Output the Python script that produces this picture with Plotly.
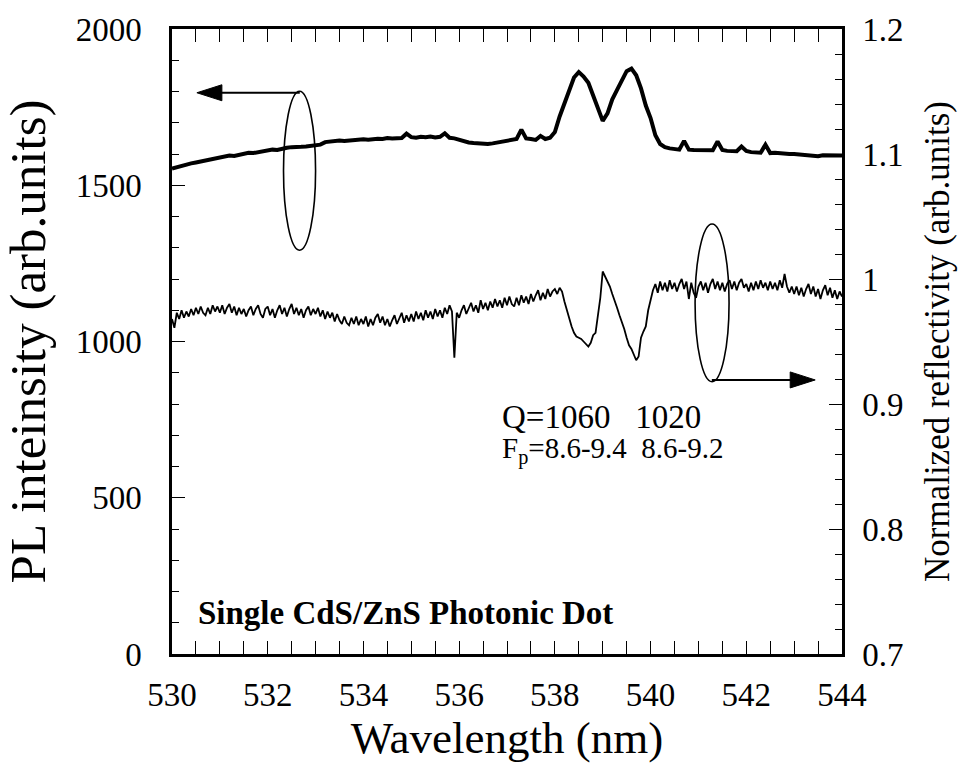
import numpy as np
import plotly.graph_objects as go

# ---------------- data ----------------
# PL intensity (left axis), 530.0 .. 544.0 nm step 0.1
pl_start, pl_step = 530.0, 0.1
pl_values = [
    1553, 1558, 1562, 1565, 1570, 1573, 1576, 1580, 1582, 1586,
    1590, 1592, 1595, 1594, 1598, 1600, 1604, 1603, 1606, 1608,
    1612, 1614, 1613, 1618, 1620, 1622, 1621, 1623, 1624, 1626,
    1627, 1630, 1638, 1640, 1641, 1643, 1642, 1644, 1645, 1646,
    1647, 1646, 1648, 1649, 1648, 1651, 1650, 1652, 1651, 1665,
    1654, 1652, 1655, 1654, 1656, 1653, 1655, 1666, 1652, 1650,
    1645, 1640, 1637, 1635, 1634, 1632, 1632, 1634, 1637, 1640,
    1644, 1647, 1648, 1678, 1650, 1648, 1645, 1658, 1648, 1652,
    1670, 1720, 1760, 1805, 1845, 1862, 1848, 1828, 1785, 1740,
    1706, 1730, 1775, 1805, 1835, 1865, 1873, 1852, 1810, 1755,
    1715, 1660, 1632, 1622, 1618, 1616, 1614, 1642, 1614, 1613,
    1612, 1611, 1610, 1612, 1640, 1613, 1610, 1611, 1609, 1624,
    1610, 1606, 1605, 1604, 1630, 1603, 1604, 1602, 1603, 1600,
    1600, 1598, 1598, 1595, 1594, 1593, 1596, 1595, 1594, 1596,
    1595,
]

# Normalized reflectivity (right axis), 530.00 .. 544.00 nm step 0.05
rf_start, rf_step = 530.0, 0.05
rf_values = [
    0.968, 0.961, 0.973, 0.968, 0.975, 0.969, 0.974, 0.970, 0.976, 0.971, 0.977, 0.972, 0.978, 0.973, 0.971, 0.977, 0.972, 0.979, 0.974, 0.978,
    0.973, 0.979, 0.972, 0.977, 0.980, 0.973, 0.978, 0.971, 0.977, 0.972, 0.976, 0.970, 0.975, 0.978, 0.971, 0.976, 0.979, 0.972, 0.969, 0.976,
    0.978, 0.971, 0.976, 0.969, 0.975, 0.979, 0.972, 0.977, 0.970, 0.976, 0.980, 0.972, 0.977, 0.971, 0.976, 0.969, 0.975, 0.978, 0.971, 0.976,
    0.972, 0.977, 0.970, 0.975, 0.968, 0.974, 0.969, 0.973, 0.966, 0.972, 0.967, 0.964, 0.970, 0.965, 0.963, 0.969, 0.964, 0.970, 0.963, 0.968,
    0.964, 0.970, 0.962, 0.968, 0.963, 0.969, 0.972, 0.965, 0.970, 0.963, 0.968, 0.962, 0.967, 0.971, 0.964, 0.969, 0.973, 0.965, 0.971, 0.966,
    0.972, 0.966, 0.974, 0.968, 0.973, 0.967, 0.975, 0.969, 0.974, 0.968, 0.976, 0.970, 0.975, 0.969, 0.977, 0.972, 0.979, 0.974, 0.937, 0.973,
    0.969, 0.975, 0.979, 0.972, 0.977, 0.981, 0.974, 0.979, 0.973, 0.983, 0.976, 0.981, 0.975, 0.982, 0.977, 0.984, 0.978, 0.983, 0.977, 0.985,
    0.979, 0.986, 0.980, 0.978, 0.985, 0.979, 0.987, 0.981, 0.986, 0.980, 0.988, 0.982, 0.987, 0.991, 0.983, 0.989, 0.984, 0.992, 0.986, 0.990,
    0.992, 0.988, 0.993, 0.990, 0.982, 0.975, 0.968, 0.962, 0.957, 0.954, 0.953, 0.952, 0.950, 0.948, 0.946, 0.949, 0.955, 0.957, 0.972, 0.985,
    1.006, 1.002, 0.999, 0.994, 0.988, 0.983, 0.977, 0.971, 0.966, 0.960, 0.953, 0.947, 0.944, 0.940, 0.935, 0.938, 0.953, 0.958, 0.962, 0.975,
    0.984, 0.991, 0.996, 0.989, 0.998, 0.991, 0.997, 0.990, 0.999, 0.992, 0.997, 0.990, 0.996, 1.000, 0.992, 0.998, 0.984, 0.997, 0.989, 0.985,
    0.994, 0.998, 0.991, 0.997, 0.989, 0.996, 1.000, 0.992, 0.998, 0.991, 0.997, 0.990, 0.996, 0.999, 0.992, 0.998, 0.991, 0.997, 1.000, 0.993,
    0.996, 0.990, 0.997, 0.991, 0.998, 0.992, 0.999, 0.993, 0.997, 0.991, 0.998, 0.992, 0.997, 0.991, 0.999, 0.993, 1.004, 0.994, 0.989, 0.994,
    0.988, 0.994, 0.987, 0.993, 0.986, 0.992, 0.996, 0.988, 0.994, 0.986, 0.992, 0.984, 0.991, 0.995, 0.987, 0.993, 0.985, 0.991, 0.984, 0.990,
    0.986,
]

x_ticks = [530, 532, 534, 536, 538, 540, 542, 544]
y_left_ticks = [0, 500, 1000, 1500, 2000]
y_right_ticks = [0.7, 0.8, 0.9, 1.0, 1.1, 1.2]
y_right_labels = ["0.7", "0.8", "0.9", "1", "1.1", "1.2"]

pl_x = pl_start + pl_step * np.arange(len(pl_values))
rf_x = rf_start + rf_step * np.arange(len(rf_values))

FONT = "Liberation Serif"

fig = go.Figure()
fig.add_trace(go.Scatter(x=pl_x, y=pl_values, mode="lines",
                         line=dict(color="black", width=4), yaxis="y",
                         showlegend=False))
fig.add_trace(go.Scatter(x=rf_x, y=rf_values, mode="lines",
                         line=dict(color="black", width=1.8), yaxis="y2",
                         showlegend=False))

# ellipses
fig.add_shape(type="circle", xref="x", yref="y", x0=532.33, x1=533.0,
              y0=1292, y1=1801, line=dict(color="black", width=1.6))
fig.add_shape(type="circle", xref="x", yref="y", x0=540.93, x1=541.64,
              y0=871, y1=1376, line=dict(color="black", width=1.6))

# arrows: shaft + filled head
def arrow(x_from, x_tip, y, direction):
    fig.add_shape(type="line", xref="x", yref="y", x0=x_from, x1=x_tip - direction * 0.3,
                  y0=y, y1=y, line=dict(color="black", width=2))
    d = direction
    fig.add_shape(type="path", xref="x", yref="y", xsizemode="pixel", ysizemode="pixel",
                  xanchor=x_tip, yanchor=y,
                  path=f"M0,0 L{-d*25},8 L{-d*25},-8 Z",
                  fillcolor="black", line=dict(color="black", width=1))

arrow(532.67, 530.52, 1796, -1)
arrow(541.28, 543.44, 877, 1)

# text
fig.add_annotation(x=536.85, y=760, xref="x", yref="y", text="Q=1060   1020",
                   showarrow=False, xanchor="left", yanchor="middle",
                   font=dict(family=FONT, size=33, color="black"))
fig.add_annotation(x=536.85, y=652, xref="x", yref="y",
                   text="F<sub>p</sub>=8.6-9.4  8.6-9.2",
                   showarrow=False, xanchor="left", yanchor="middle",
                   font=dict(family=FONT, size=29, color="black"))
fig.add_annotation(x=530.5, y=131, xref="x", yref="y",
                   text="<b>Single CdS/ZnS Photonic Dot</b>",
                   showarrow=False, xanchor="left", yanchor="middle",
                   font=dict(family=FONT, size=33, color="black"))

axis_common = dict(showgrid=False, zeroline=False, ticks="inside",
                   tickcolor="black", tickwidth=1.2, ticklen=13,
                   linecolor="black", linewidth=2.5, showline=True,
                   tickfont=dict(family=FONT, size=33, color="black"))

fig.update_layout(
    width=964, height=771,
    margin=dict(l=172, r=122, t=27, b=117),
    paper_bgcolor="white", plot_bgcolor="white",
    xaxis=dict(range=[530, 544], tickvals=x_ticks, mirror="allticks",
               minor=dict(dtick=0.5, ticks="inside", ticklen=7, tickcolor="black", tickwidth=1),
               ticklabelstandoff=10,
               title=dict(text="Wavelength (nm)", font=dict(family=FONT, size=45, color="black"),
                          standoff=7),
               **axis_common),
    yaxis=dict(range=[0, 2000], tickvals=y_left_ticks,
               minor=dict(dtick=100, ticks="inside", ticklen=7, tickcolor="black", tickwidth=1),
               ticklabelstandoff=21,
               title=dict(text="PL inteinsity (arb.units)", font=dict(family=FONT, size=51, color="black"),
                          standoff=22),
               **axis_common),
    yaxis2=dict(range=[0.7, 1.2], tickvals=y_right_ticks, ticktext=y_right_labels,
                overlaying="y", side="right",
                minor=dict(dtick=0.02, ticks="inside", ticklen=7, tickcolor="black", tickwidth=1),
                ticklabelstandoff=11,
                title=dict(text="Normalized reflectivity (arb.units)", font=dict(family=FONT, size=35, color="black"),
                           standoff=22),
                **axis_common),
)

fig.write_html("out.html", config={"displayModeBar": False},
               post_script="document.body.style.margin='0px';document.body.style.overflow='hidden';")
